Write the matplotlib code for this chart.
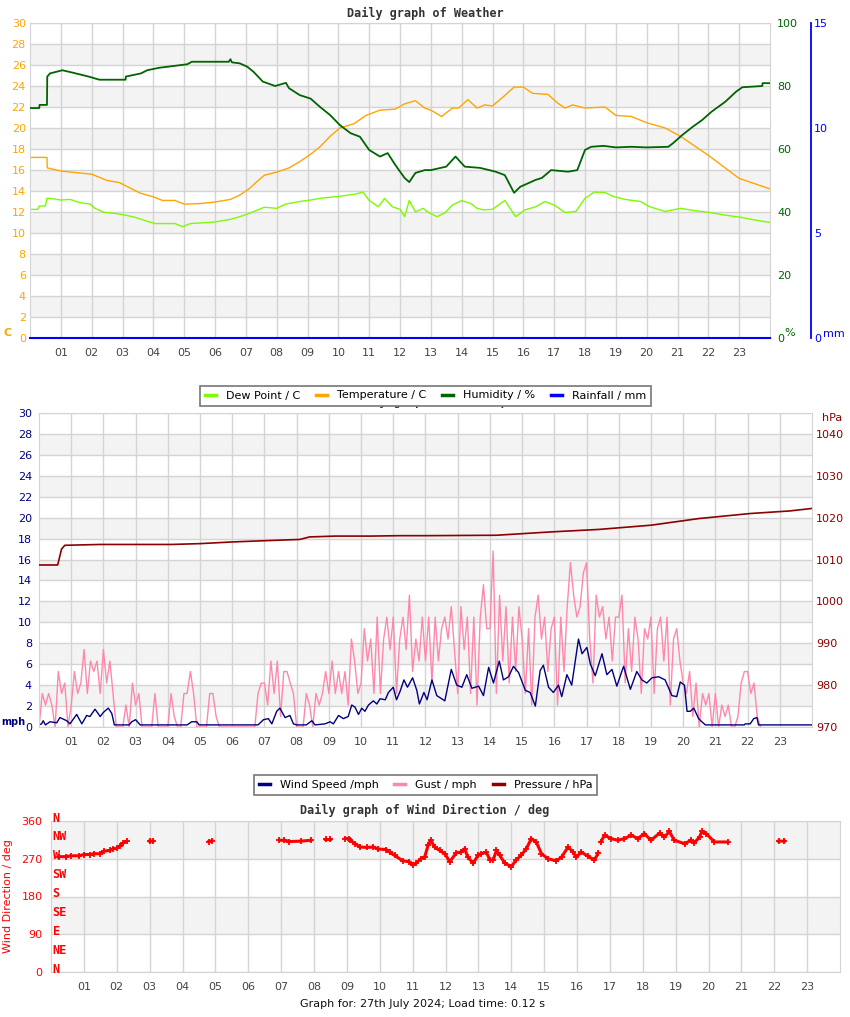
import numpy as np
import matplotlib
matplotlib.use("Agg")
import matplotlib.pyplot as plt
from matplotlib.lines import Line2D
from matplotlib.transforms import blended_transform_factory

W, H = 850, 1017

# ---------------- data ----------------
hours = list(range(1, 24))
hour_labels = ["%02d" % h for h in hours]

# (hour, degC)
temp_pts = [
    (0, 17.2), (0.55, 17.2), (0.56, 16.2), (1.0, 15.9), (2.0, 15.6), (2.5, 15.0), (2.9, 14.8), (3.57, 13.8),
    (4.0, 13.45), (4.3, 13.1), (4.7, 13.1), (5.0, 12.75), (5.5, 12.8), (6.0, 12.95), (6.5, 13.2), (6.8, 13.6),
    (7.1, 14.2), (7.4, 15.0), (7.6, 15.5), (8.0, 15.8), (8.4, 16.2), (8.75, 16.8), (9.1, 17.5), (9.4, 18.2),
    (9.73, 19.2), (10.05, 20.0), (10.5, 20.4), (10.9, 21.2), (11.35, 21.7), (11.85, 21.8), (12.15, 22.3),
    (12.5, 22.6), (12.8, 21.9), (13.0, 21.7), (13.35, 21.1), (13.7, 21.9), (13.9, 21.9), (14.2, 22.7),
    (14.5, 21.9), (14.75, 22.2), (15.0, 22.1), (15.4, 23.1), (15.7, 23.9), (16.0, 23.9), (16.3, 23.3),
    (16.8, 23.2), (17.1, 22.4), (17.35, 21.9), (17.6, 22.2), (18.0, 21.9), (18.65, 22.0), (19.0, 21.2),
    (19.5, 21.1), (20.0, 20.5), (20.6, 20.0), (21.1, 19.2), (21.6, 18.2), (22.0, 17.4), (22.5, 16.3),
    (23.0, 15.2), (23.5, 14.7), (24.0, 14.2),
]

# (hour, degC)
dew_pts = [
    (0, 12.25), (0.25, 12.25), (0.3, 12.57), (0.5, 12.57), (0.55, 13.3), (0.65, 13.3), (1.0, 13.14),
    (1.3, 13.2), (1.6, 12.9), (1.95, 12.76), (2.1, 12.35), (2.4, 11.97), (2.75, 11.87), (3.1, 11.7),
    (3.4, 11.5), (3.75, 11.17), (4.05, 10.9), (4.4, 10.9), (4.7, 10.9), (4.95, 10.6), (5.2, 10.9),
    (5.5, 10.95), (6.0, 11.05), (6.5, 11.3), (6.8, 11.55), (7.15, 11.9), (7.3, 12.1), (7.6, 12.45),
    (8.0, 12.35), (8.3, 12.76), (8.75, 13.0), (9.1, 13.14), (9.4, 13.3), (10.05, 13.5), (10.55, 13.7),
    (10.8, 13.9), (11.0, 13.1), (11.3, 12.5), (11.5, 13.3), (11.75, 12.5), (12.0, 12.25), (12.15, 11.55),
    (12.3, 13.1), (12.5, 12.0), (12.75, 12.35), (12.9, 12.0), (13.2, 11.55), (13.45, 11.9), (13.7, 12.67),
    (14.0, 13.08), (14.3, 12.8), (14.5, 12.35), (14.7, 12.2), (15.0, 12.25), (15.4, 13.1), (15.75, 11.55),
    (16.05, 12.2), (16.4, 12.5), (16.7, 13.0), (17.0, 12.67), (17.35, 11.95), (17.7, 12.05), (18.0, 13.3),
    (18.3, 13.9), (18.65, 13.85), (18.9, 13.5), (19.3, 13.2), (19.8, 13.0), (20.1, 12.5), (20.6, 12.05),
    (21.1, 12.35), (21.55, 12.13), (22.05, 11.95), (22.55, 11.7), (23.05, 11.5), (23.5, 11.24), (24.0, 11.0),
]

# (hour, %)
hum_pts = [
    (0, 73), (0.3, 73), (0.31, 74), (0.55, 74), (0.56, 83), (0.65, 84), (1.05, 85), (1.4, 84.2), (1.9, 83),
    (2.25, 82), (3.1, 82), (3.11, 83), (3.6, 84), (3.8, 85), (4.2, 85.8), (5.1, 86.9), (5.25, 87.7),
    (6.45, 87.7), (6.5, 88.5), (6.55, 87.5), (6.8, 87.2), (7.05, 86.1), (7.25, 84.5), (7.55, 81.4),
    (7.95, 80), (8.3, 81), (8.4, 79.3), (8.75, 77.1), (9.1, 76), (9.4, 73.4), (9.73, 70.8), (10.05, 67.6),
    (10.4, 65), (10.7, 63.9), (11.0, 59.7), (11.35, 57.6), (11.6, 58.7), (11.85, 54.9), (12.15, 50.8),
    (12.3, 49.5), (12.5, 52.4), (12.8, 53.3), (13.0, 53.3), (13.5, 54.4), (13.8, 57.6), (14.1, 54.4),
    (14.6, 54.0), (15.1, 52.8), (15.4, 51.7), (15.7, 46.1), (15.9, 48.0), (16.4, 50.2), (16.6, 50.8),
    (16.9, 53.3), (17.45, 52.8), (17.75, 53.3), (18.0, 59.7), (18.2, 60.7), (18.6, 61.0), (19.0, 60.5),
    (19.5, 60.7), (20.0, 60.5), (20.7, 60.7), (20.85, 61.8), (21.15, 64.4), (21.5, 67.1), (21.8, 69.2),
    (22.1, 71.8), (22.55, 75.0), (22.9, 78.2), (23.1, 79.6), (23.75, 80.0), (23.76, 80.9), (24.0, 80.9),
]

rain_hours = [0, 24]
rain_mm = [0.0, 0.0]

# (hour, hPa)
press_pts = [
    (0, 1008.7), (0.58, 1008.7), (0.7, 1012.5), (0.8, 1013.4), (1.9, 1013.6), (4.1, 1013.6), (5.0, 1013.8),
    (6.0, 1014.2), (7.0, 1014.5), (8.1, 1014.8), (8.4, 1015.4), (9.2, 1015.6), (10.3, 1015.6),
    (11.2, 1015.7), (12.0, 1015.7), (14.2, 1015.8), (15.9, 1016.6), (17.4, 1017.2), (19.0, 1018.2),
    (20.5, 1019.8), (22.1, 1021.0), (23.3, 1021.6), (24.0, 1022.2),
]

# (hour, mph)
wind_pts = [
    (0, 0.2), (0.08, 0.3), (0.13, 0.6), (0.2, 0.2), (0.34, 0.5), (0.55, 0.4), (0.65, 0.9), (0.86, 0.6),
    (0.96, 0.3), (1.17, 1.2), (1.33, 0.3), (1.48, 1.1), (1.58, 1.0), (1.74, 1.7), (1.9, 1.0), (2.0, 1.4),
    (2.15, 1.8), (2.26, 1.3), (2.34, 0.2), (2.8, 0.2), (2.88, 0.5), (3.0, 0.7), (3.14, 0.2), (4.6, 0.2),
    (4.74, 0.5), (4.9, 0.5), (4.97, 0.2), (6.8, 0.2), (6.97, 0.7), (7.12, 0.8), (7.23, 0.3), (7.38, 1.5),
    (7.48, 1.8), (7.64, 0.9), (7.79, 1.1), (7.9, 0.3), (8.0, 0.2), (8.3, 0.2), (8.47, 0.6), (8.57, 0.2),
    (8.88, 0.3), (9.04, 0.5), (9.14, 0.3), (9.3, 1.1), (9.45, 0.8), (9.6, 1.0), (9.71, 2.1), (9.81, 1.9),
    (9.92, 1.2), (10.02, 1.8), (10.12, 1.5), (10.23, 2.1), (10.38, 2.5), (10.49, 2.2), (10.59, 2.7),
    (10.75, 2.6), (10.85, 3.3), (11.0, 3.8), (11.1, 2.6), (11.21, 3.4), (11.33, 4.5), (11.44, 3.8),
    (11.6, 4.7), (11.73, 3.5), (11.81, 2.2), (11.95, 3.3), (12.05, 2.6), (12.2, 4.5), (12.35, 3.0),
    (12.6, 2.5), (12.8, 5.5), (12.97, 4.0), (13.13, 3.8), (13.28, 5.0), (13.44, 3.7), (13.65, 3.9),
    (13.8, 3.0), (13.96, 5.7), (14.11, 4.2), (14.29, 6.3), (14.42, 4.5), (14.58, 4.8), (14.73, 5.8),
    (14.89, 5.2), (15.1, 3.5), (15.25, 3.3), (15.41, 2.0), (15.56, 5.4), (15.66, 5.9), (15.82, 3.8),
    (15.97, 3.3), (16.13, 4.0), (16.23, 2.9), (16.39, 5.0), (16.54, 4.0), (16.75, 8.4), (16.86, 7.0),
    (17.01, 7.6), (17.12, 6.0), (17.27, 4.9), (17.48, 7.0), (17.63, 5.0), (17.79, 5.5), (17.94, 3.9),
    (18.15, 5.8), (18.36, 3.6), (18.56, 5.3), (18.72, 4.5), (18.87, 4.2), (19.03, 4.7), (19.24, 4.8),
    (19.44, 4.5), (19.65, 3.0), (19.8, 2.9), (19.91, 4.3), (20.04, 4.0), (20.12, 1.5), (20.22, 1.5),
    (20.33, 1.8), (20.48, 0.8), (20.58, 0.5), (20.69, 0.2), (21.9, 0.2), (21.93, 0.3), (22.08, 0.3),
    (22.19, 0.8), (22.29, 0.9), (22.34, 0.2), (24.0, 0.2),
]

# gust, one reading every 6 minutes from 00:00
gust_step_h = 0.1
gust_mph = [
    0, 3.2, 2.1, 3.2, 2.1, 0, 5.3, 3.2, 4.2, 0,
    2.1, 5.3, 3.2, 4.2, 7.4, 3.2, 6.3, 5.3, 6.3, 3.2,
    7.4, 4.2, 6.3, 3.2, 0, 0, 0, 2.1, 0, 4.2,
    2.1, 3.2, 0, 0, 0, 0, 3.2, 0, 0, 0,
    0, 3.2, 1.0, 0, 0, 3.2, 3.2, 5.3, 3.2, 0,
    0, 0, 0, 3.2, 3.2, 1.0, 0, 0, 0, 0,
    0, 0, 0, 0, 0, 0, 0, 0, 3.2, 4.2,
    4.2, 2.1, 6.3, 3.2, 6.3, 1.0, 5.3, 5.3, 4.2, 3.2,
    0, 0, 0, 3.2, 2.1, 0, 3.2, 2.1, 3.2, 5.3,
    3.2, 6.3, 3.2, 5.3, 3.2, 5.3, 2.1, 8.4, 6.3, 3.2,
    4.2, 9.4, 6.3, 8.4, 3.2, 10.5, 3.2, 8.4, 10.5, 7.4,
    10.5, 3.2, 8.4, 10.5, 7.4, 12.6, 5.3, 8.4, 6.3, 10.5,
    6.3, 10.5, 4.2, 10.5, 6.3, 9.4, 10.5, 8.4, 11.5, 7.4,
    3.2, 11.5, 7.4, 10.5, 3.2, 10.5, 2.1, 10.5, 13.6, 9.4,
    9.4, 16.8, 3.2, 12.6, 6.3, 11.5, 4.2, 10.5, 5.3, 11.5,
    8.4, 3.2, 9.4, 2.1, 10.5, 12.6, 8.4, 10.5, 5.3, 9.4,
    10.5, 2.1, 10.5, 5.3, 11.5, 15.7, 12.6, 10.5, 11.5, 14.7,
    15.7, 8.4, 4.2, 12.6, 10.5, 11.5, 8.4, 10.5, 6.3, 10.5,
    10.5, 12.6, 4.2, 9.4, 5.3, 10.5, 8.4, 3.2, 9.4, 8.4,
    10.5, 3.2, 9.4, 10.5, 6.3, 10.5, 2.1, 8.4, 9.4, 6.3,
    4.2, 3.2, 5.3, 1.0, 4.2, 0, 3.2, 2.1, 3.2, 0,
    3.2, 0, 2.1, 1.0, 2.1, 0, 0, 1.0, 4.2, 5.3,
    5.3, 3.2, 4.2, 1.0, 0,
]

# (hour, deg); None marks a gap in the record
dir_pts = [
    (0.25, 275), (0.45, 275), (0.6, 277), (0.85, 277), (1.0, 280), (1.2, 280), (1.3, 282), (1.5, 282),
    (1.6, 288), (1.8, 290), (1.9, 294), (2.0, 295), (2.1, 300), (2.2, 308), (2.3, 312), None,
    (3.0, 312), (3.1, 312), None,
    (4.8, 311), (4.9, 313), None,
    (6.95, 314), (7.1, 314), (7.25, 311), (7.6, 312), (7.9, 314), None,
    (8.35, 316), (8.5, 316), None,
    (8.95, 318), (9.05, 318), (9.1, 314), (9.25, 306), (9.4, 298), (9.6, 297), (9.8, 298), (9.95, 293),
    (10.2, 292), (10.3, 286), (10.45, 278), (10.7, 265), (10.9, 263), (11.0, 255), (11.1, 259),
    (11.25, 270), (11.37, 275), (11.47, 302), (11.55, 314), (11.67, 298), (11.82, 290), (11.98, 282),
    (12.13, 263), (12.33, 284), (12.48, 286), (12.58, 294), (12.68, 274), (12.84, 259), (12.99, 278),
    (13.09, 282), (13.24, 286), (13.35, 267), (13.45, 267), (13.55, 290), (13.65, 278), (13.8, 260),
    (14.0, 251), (14.15, 267), (14.3, 278), (14.46, 294), (14.61, 318), (14.76, 310), (14.92, 282),
    (15.12, 270), (15.37, 265), (15.53, 274), (15.73, 298), (15.88, 286), (15.98, 274), (16.13, 286),
    (16.33, 276), (16.53, 267), (16.65, 284), None,
    (16.72, 310), (16.84, 326), (17.04, 318), (17.24, 314), (17.44, 318), (17.65, 326), (17.85, 318),
    (18.05, 330), (18.25, 314), (18.51, 331), (18.66, 322), (18.81, 335), (18.96, 314), (19.27, 306),
    (19.47, 314), (19.57, 308), (19.73, 322), (19.8, 335), (19.93, 330), (20.18, 310), (20.59, 310), None,
    (22.13, 312), (22.31, 312),
]

compass = ["N", "NE", "E", "SE", "S", "SW", "W", "NW", "N"]
compass_deg = [0, 45, 90, 135, 180, 225, 270, 315, 360]

# ---------------- style ----------------
GRID = "#d4d4d4"
BAND = "#f3f3f3"
TXT = "#444444"
C_DEW = "#7cfc00"
C_TEMP = "#ffa500"
C_HUM = "#006400"
C_RAIN = "#0000ff"
C_WIND = "#000080"
C_GUST = "#ff88aa"
C_PRES = "#8b0000"
C_DIR = "#ff0000"
FS = 8

plt.rcParams["font.family"] = ["DejaVu Sans"]

fig = plt.figure(figsize=(W / 100, H / 100), dpi=100)


def add_ax(l, t, r, b):
    return fig.add_axes([l / W, 1 - b / H, (r - l) / W, (b - t) / H])


def split(pts):
    xs, ys = [], []
    for p in pts:
        if p is None:
            xs.append(np.nan)
            ys.append(np.nan)
        else:
            xs.append(p[0])
            ys.append(p[1])
    return np.array(xs), np.array(ys)


def base(ax, ymax, ystep, bands, ycolor, ypad):
    ax.set_xlim(0, 24)
    ax.set_ylim(0, ymax)
    for y0 in bands:
        ax.axhspan(y0, y0 + ystep, color=BAND, lw=0, zorder=0)
    ax.set_xticks(hours)
    ax.set_xticklabels(hour_labels)
    ax.set_yticks(np.arange(0, ymax + 0.1, ystep))
    ax.grid(True, color=GRID, lw=1)
    ax.set_axisbelow(True)
    ax.tick_params(axis="x", length=0, pad=7, labelsize=FS, labelcolor=TXT)
    ax.tick_params(axis="y", length=0, pad=ypad, labelsize=FS, labelcolor=ycolor)
    for s in ax.spines.values():
        s.set_color(GRID)


def fpx(x, y):
    return x / W, 1 - y / H


# ---------------- top: weather ----------------
ax1 = add_ax(30, 23, 770, 338)
base(ax1, 30, 2, range(2, 28, 4), C_TEMP, 3)
x, y = split(dew_pts)
ax1.plot(x, y, color=C_DEW, lw=1)
x, y = split(temp_pts)
ax1.plot(x, y, color=C_TEMP, lw=1)

ax1h = ax1.twinx()
ax1h.set_ylim(0, 100)
ax1h.set_yticks(range(0, 101, 20))
ax1h.tick_params(axis="y", length=0, pad=5, labelsize=FS, labelcolor=C_HUM)
for s in ax1h.spines.values():
    s.set_visible(False)
x, y = split(hum_pts)
ax1h.plot(x, y, color=C_HUM, lw=1.3)

ax1r = ax1.twinx()
ax1r.set_ylim(0, 15)
ax1r.set_yticks([0, 5, 10, 15])
ax1r.spines["right"].set_position(("axes", (811 - 30) / 740))
for k in ["left", "top", "bottom"]:
    ax1r.spines[k].set_visible(False)
ax1r.spines["right"].set_color(C_RAIN)
ax1r.spines["right"].set_linewidth(1.3)
ax1r.tick_params(axis="y", length=0, pad=2, labelsize=FS, labelcolor=C_RAIN)
ax1r.plot(rain_hours, rain_mm, color=C_RAIN, lw=1.5, clip_on=False)

fig.text(*fpx(425, 13), "Daily graph of Weather", family="DejaVu Sans Mono", weight="bold",
         size=8.5, color="#333333", ha="center", va="center")
fig.text(*fpx(3, 333), "C", weight="bold", size=FS, color=C_TEMP, ha="left", va="center")
fig.text(*fpx(784, 333), "%", size=FS, color=C_HUM, ha="left", va="center")
fig.text(*fpx(823, 334), "mm", size=FS, color=C_RAIN, ha="left", va="center")

# ---------------- middle: wind / pressure ----------------
# title of the wind chart sits behind the weather legend, only its descenders peek out
fig.text(*fpx(351, 405), "Daily graph of Wind Speed", family="DejaVu Sans Mono", weight="bold",
         size=8.5, color="#333333", ha="left", va="baseline", zorder=1)

ax2 = add_ax(39, 413, 812, 727)
base(ax2, 30, 2, range(2, 28, 4), C_WIND, 5)
gust_h = np.arange(len(gust_mph)) * gust_step_h
ax2.plot(gust_h, gust_mph, color=C_GUST, lw=1)
x, y = split(wind_pts)
ax2.plot(x, y, color=C_WIND, lw=1)

ax2p = ax2.twinx()
ax2p.set_ylim(970, 1045)
ax2p.set_yticks(range(970, 1041, 10))
ax2p.tick_params(axis="y", length=0, pad=3, labelsize=FS, labelcolor=C_PRES)
for s in ax2p.spines.values():
    s.set_visible(False)
x, y = split(press_pts)
ax2p.plot(x, y, color=C_PRES, lw=1.2)

fig.text(*fpx(1, 722), "mph", weight="bold", size=7, color=C_WIND, ha="left", va="center")
fig.text(*fpx(822, 418), "hPa", size=FS, color=C_PRES, ha="left", va="center")

# ---------------- bottom: wind direction ----------------
ax3 = add_ax(51, 821, 840, 972)
base(ax3, 360, 90, [90, 270], C_DIR, 6)
x, y = split(dir_pts)
ax3.plot(x, y, color=C_DIR, lw=2.2, marker="+", ms=4, mew=1.3)
tr = blended_transform_factory(ax3.transAxes, ax3.transData)
for lab, d in zip(compass, compass_deg):
    ax3.text(0.002, d + 7, lab, transform=tr, family="DejaVu Sans Mono", weight="bold",
             size=8.5, color=C_DIR, ha="left", va="center", clip_on=False)
fig.text(*fpx(8, 896), "Wind Direction / deg", rotation=90, size=FS, color=C_DIR,
         ha="center", va="center")
fig.text(*fpx(425, 810), "Daily graph of Wind Direction / deg", family="DejaVu Sans Mono",
         weight="bold", size=8.5, color="#333333", ha="center", va="center")
fig.text(*fpx(422, 1004), "Graph for: 27th July 2024; Load time: 0.12 s", size=FS,
         color="#111111", ha="center", va="center")


# ---------------- legends ----------------
def legend(items, cx, cy):
    handles = [Line2D([], [], color=c, lw=2.5) for _, c in items]
    lg = fig.legend(handles, [t for t, _ in items], loc="center", bbox_to_anchor=fpx(cx, cy),
                    ncol=len(items), fontsize=FS, frameon=True, fancybox=False, framealpha=1,
                    handlelength=1.0, handletextpad=0.9, columnspacing=1.4, borderpad=0.45)
    lg.get_frame().set_edgecolor("#777777")
    lg.get_frame().set_linewidth(1.2)
    lg.set_zorder(10)
    return lg


legend([("Dew Point / C", C_DEW), ("Temperature / C", C_TEMP),
        ("Humidity / %", C_HUM), ("Rainfall / mm", C_RAIN)], 425.5, 395.5)
legend([("Wind Speed /mph", C_WIND), ("Gust / mph", C_GUST),
        ("Pressure / hPa", C_PRES)], 425.5, 785)

fig.savefig("out.png", dpi=100)
